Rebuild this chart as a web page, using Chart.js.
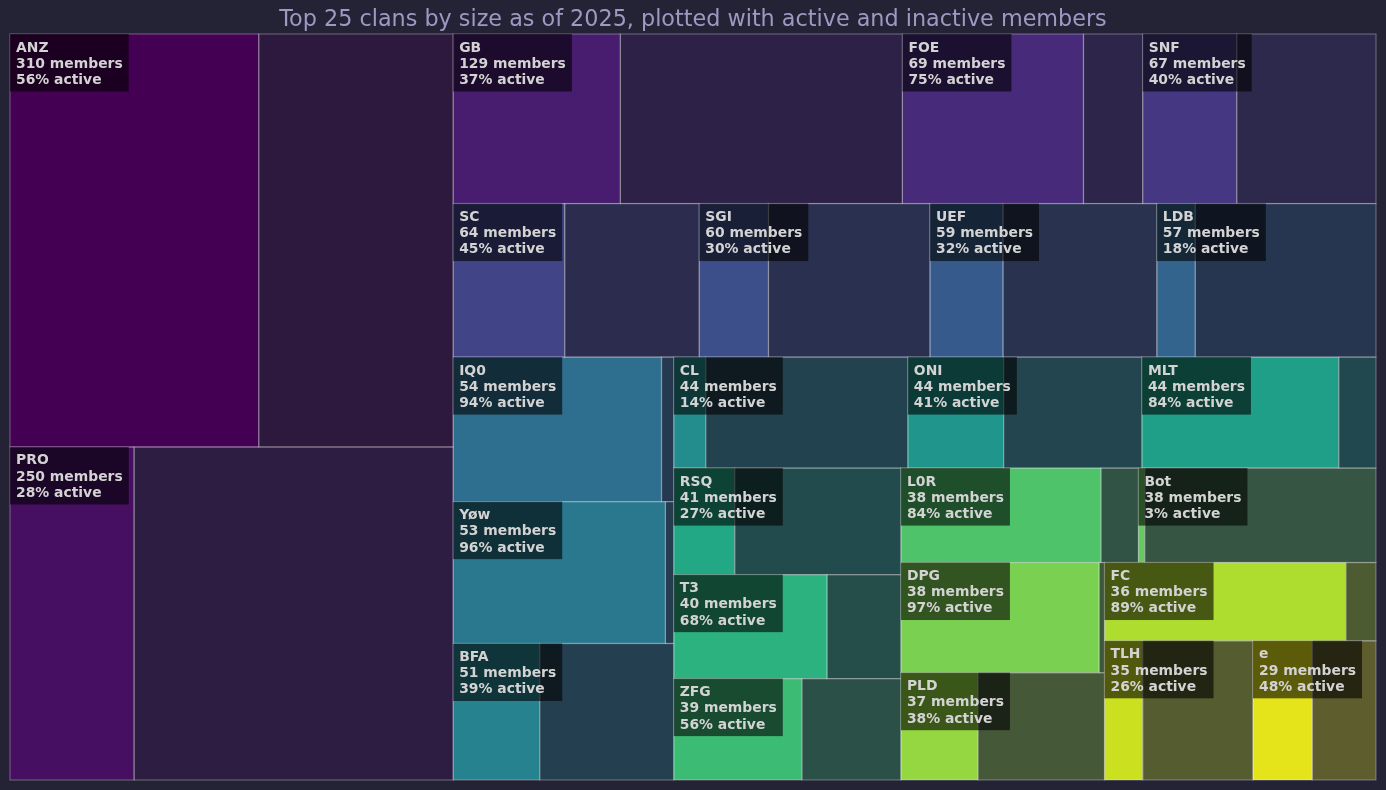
<!DOCTYPE html>
<html>
<head>
<meta charset="utf-8">
<script src="https://cdn.jsdelivr.net/npm/chart.js@4.4.1/dist/chart.umd.min.js"></script>
<style>
  html, body { margin: 0; padding: 0; background: #232335; }
  canvas { display: block; }
</style>
</head>
<body>
<canvas id="chart" width="1386" height="790"></canvas>
<script>
// ---- Data ----
const clans = ['ANZ', 'PRO', 'GB', 'FOE', 'SNF', 'SC', 'SGI', 'UEF', 'LDB', 'IQ0', 'Yøw', 'BFA',
               'CL', 'ONI', 'MLT', 'RSQ', 'T3', 'ZFG', 'L0R', 'Bot', 'DPG', 'PLD', 'FC', 'TLH', 'e'];
const members = [310, 250, 129, 69, 67, 64, 60, 59, 57, 54, 53, 51,
                 44, 44, 44, 41, 40, 39, 38, 38, 38, 37, 36, 35, 29];
const activeMembers = [174, 70, 48, 52, 27, 29, 18, 19, 10, 51, 51, 20,
                       6, 18, 37, 11, 27, 22, 32, 1, 37, 14, 32, 9, 14];
const titleText = 'Top 25 clans by size as of 2025, plotted with active and inactive members';

// ---- Styling ----
const BG = '#232335';
const TITLE_COLOR = '#9d99c3';
const LABEL_COLOR = '#d3d3d3';
const ACTIVE_ALPHA = 1;
const INACTIVE_ALPHA = 0.3;

// viridis colormap anchors (every 0.05)
const VIRIDIS = ['#440154', '#471365', '#482475', '#463480', '#414487', '#3b528b', '#355f8d',
                 '#2f6c8e', '#2a788e', '#25848e', '#21918c', '#1e9c89', '#22a884', '#2fb47c',
                 '#44bf70', '#5ec962', '#7ad151', '#9bd93c', '#bddf26', '#dfe318', '#fde725'];
function hexToRgb(h) { return [1, 3, 5].map(k => parseInt(h.substr(k, 2), 16)); }
function viridis(t) {
  t = Math.max(0, Math.min(1, t));
  const p = t * (VIRIDIS.length - 1);
  const i = Math.min(Math.floor(p), VIRIDIS.length - 2);
  const f = p - i;
  const a = hexToRgb(VIRIDIS[i]), b = hexToRgb(VIRIDIS[i + 1]);
  return a.map((v, k) => v + (b[k] - v) * f);
}
function rgba(c, a) { return `rgba(${c.map(v => Math.round(v)).join(',')},${a})`; }

// ---- Squarify layout (on a 100 x 100 square) ----
const sum = arr => arr.reduce((s, v) => s + v, 0);
function layoutRow(sizes, x, y, dx, dy) {
  const w = sum(sizes) / dy; const out = [];
  for (const s of sizes) { out.push({ x, y, dx: w, dy: s / w }); y += s / w; }
  return out;
}
function layoutCol(sizes, x, y, dx, dy) {
  const h = sum(sizes) / dx; const out = [];
  for (const s of sizes) { out.push({ x, y, dx: s / h, dy: h }); x += s / h; }
  return out;
}
function layout(sizes, x, y, dx, dy) {
  return dx >= dy ? layoutRow(sizes, x, y, dx, dy) : layoutCol(sizes, x, y, dx, dy);
}
function leftover(sizes, x, y, dx, dy) {
  if (dx >= dy) { const w = sum(sizes) / dy; return [x + w, y, dx - w, dy]; }
  const h = sum(sizes) / dx; return [x, y + h, dx, dy - h];
}
function worst(sizes, x, y, dx, dy) {
  return Math.max(...layout(sizes, x, y, dx, dy).map(r => Math.max(r.dx / r.dy, r.dy / r.dx)));
}
function squarify(sizes, x, y, dx, dy) {
  if (!sizes.length) return [];
  if (sizes.length === 1) return layout(sizes, x, y, dx, dy);
  let i = 1;
  while (i < sizes.length && worst(sizes.slice(0, i), x, y, dx, dy) >= worst(sizes.slice(0, i + 1), x, y, dx, dy)) i++;
  const cur = sizes.slice(0, i), rest = sizes.slice(i);
  const [lx, ly, ldx, ldy] = leftover(cur, x, y, dx, dy);
  return layout(cur, x, y, dx, dy).concat(squarify(rest, lx, ly, ldx, ldy));
}
const total = sum(members);
const normSizes = members.map(m => m * 100 * 100 / total);
const cells = squarify(normSizes, 0, 0, 100, 100);

// ---- Plugin drawing the treemap cells through the chart scales ----
const treemapPlugin = {
  id: 'treemap',
  beforeDraw(chart) {
    const ctx = chart.ctx;
    ctx.save();
    ctx.fillStyle = BG;
    ctx.fillRect(0, 0, chart.width, chart.height);
    ctx.fillStyle = TITLE_COLOR;
    ctx.font = '22.3px "DejaVu Sans"';
    ctx.textAlign = 'center';
    ctx.textBaseline = 'alphabetic';
    ctx.fillText(titleText, chart.width / 2, 26);
    ctx.restore();
  },
  afterDatasetsDraw(chart) {
    const ctx = chart.ctx;
    const xs = chart.scales.x, ys = chart.scales.y;
    const boxes = cells.map((r, i) => {
      const left = xs.getPixelForValue(r.x), right = xs.getPixelForValue(r.x + r.dx);
      const top = ys.getPixelForValue(r.y), bottom = ys.getPixelForValue(r.y + r.dy);
      const split = left + (right - left) * activeMembers[i] / members[i];
      return { left, right, top, bottom, split, color: viridis(i / clans.length) };
    });
    ctx.save();
    // fills
    boxes.forEach(b => {
      ctx.fillStyle = rgba(b.color, ACTIVE_ALPHA);
      ctx.fillRect(b.left, b.top, b.split - b.left, b.bottom - b.top);
      ctx.fillStyle = BG;
      ctx.fillRect(b.split, b.top, b.right - b.split, b.bottom - b.top);
      ctx.fillStyle = rgba(b.color, INACTIVE_ALPHA);
      ctx.fillRect(b.split, b.top, b.right - b.split, b.bottom - b.top);
    });
    // edges
    ctx.strokeStyle = 'rgba(255,255,255,0.28)';
    ctx.lineWidth = 1.2;
    boxes.forEach(b => {
      ctx.strokeRect(b.left, b.top, b.split - b.left, b.bottom - b.top);
      ctx.strokeRect(b.split, b.top, b.right - b.split, b.bottom - b.top);
    });
    // labels
    ctx.font = 'bold 13.9px "DejaVu Sans"';
    ctx.textAlign = 'left';
    ctx.textBaseline = 'alphabetic';
    boxes.forEach((b, i) => {
      const pct = Math.round(activeMembers[i] / members[i] * 100);
      const lines = [clans[i], `${members[i]} members`, `${pct}% active`];
      const w = Math.max(...lines.map(l => ctx.measureText(l).width));
      ctx.fillStyle = 'rgba(0,0,0,0.6)';
      ctx.fillRect(b.left, b.top, w + 12, 57.5);
      ctx.fillStyle = LABEL_COLOR;
      lines.forEach((l, k) => ctx.fillText(l, b.left + 6, b.top + 17.5 + k * 16.2));
    });
    ctx.restore();
  }
};

new Chart(document.getElementById('chart'), {
  type: 'scatter',
  data: {
    datasets: [{
      label: 'clans',
      data: cells.map(r => ({ x: r.x + r.dx / 2, y: r.y + r.dy / 2 })),
      pointRadius: 0,
      pointHoverRadius: 0
    }]
  },
  options: {
    responsive: false,
    animation: false,
    layout: { padding: { left: 10, right: 10, top: 34, bottom: 10 } },
    scales: {
      x: { type: 'linear', min: 0, max: 100, display: false },
      y: { type: 'linear', min: 0, max: 100, reverse: true, display: false }
    },
    plugins: { legend: { display: false }, tooltip: { enabled: false }, title: { display: false } },
    events: []
  },
  plugins: [treemapPlugin]
});
</script>
</body>
</html>
